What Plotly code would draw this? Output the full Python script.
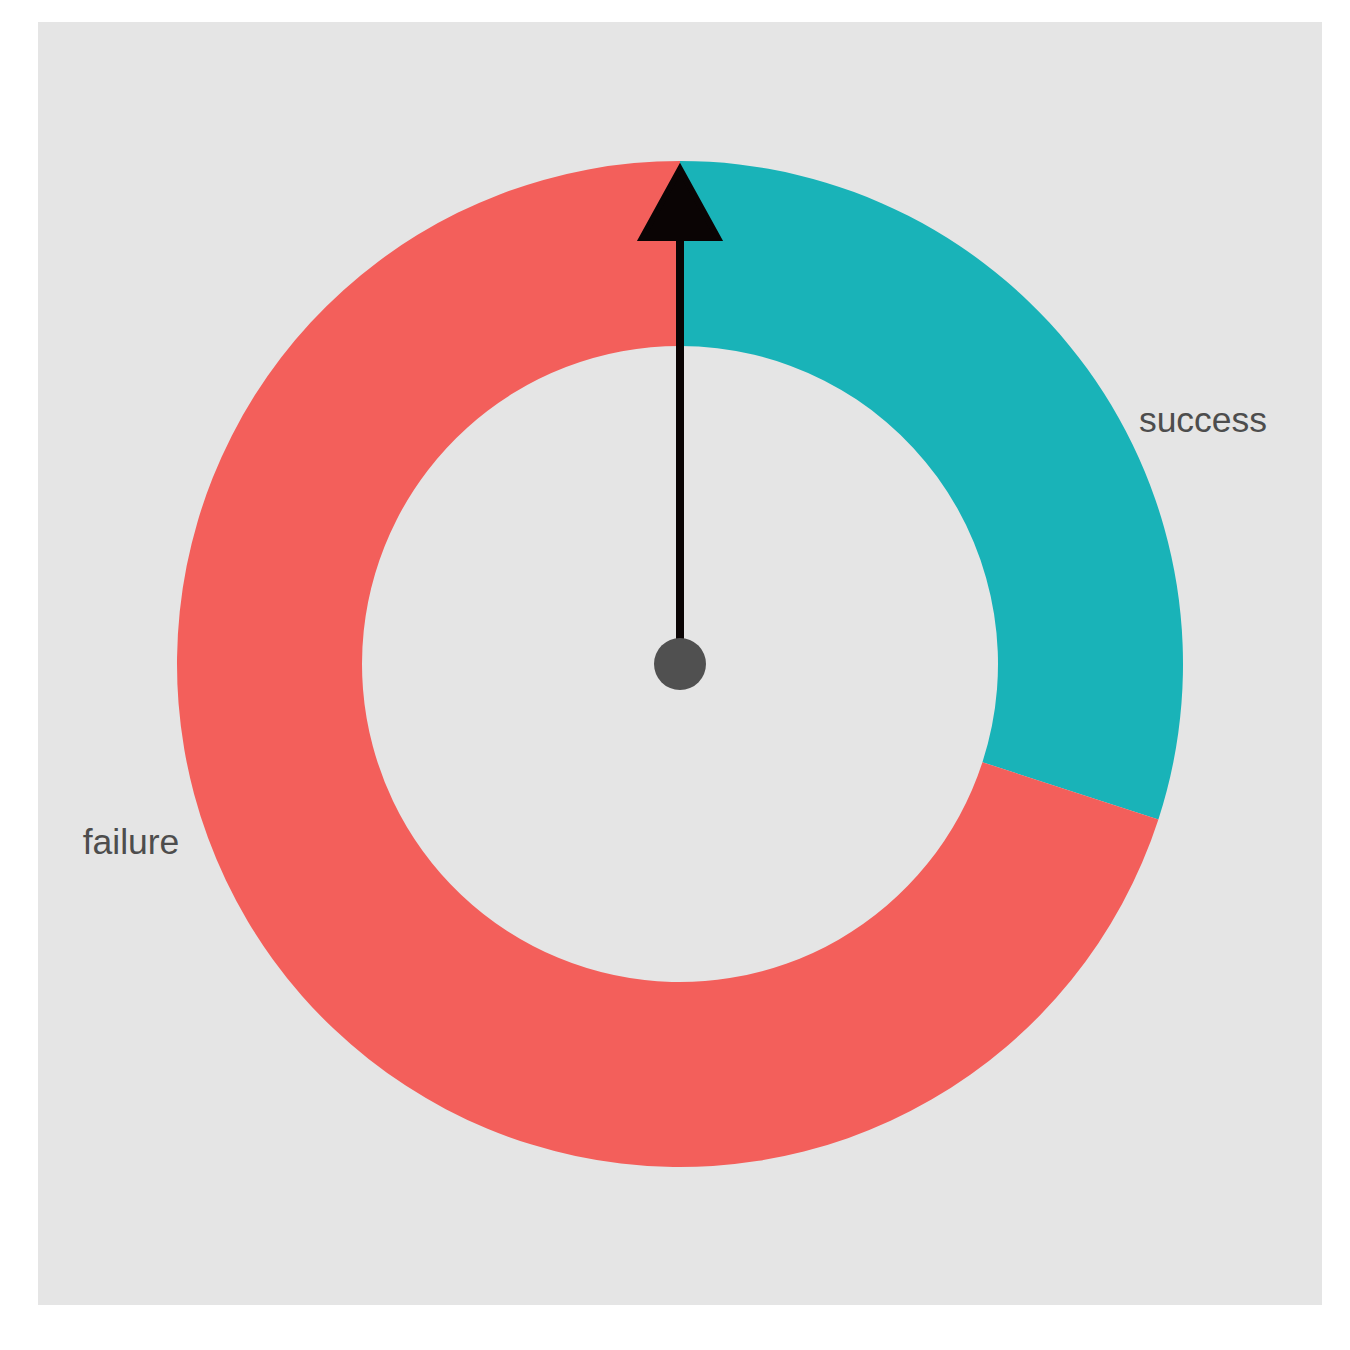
import math
import plotly.graph_objects as go

# data
categories = ["success", "failure"]
shares = [0.30, 0.70]
needle_value = 0.0  # where the needle points, as a fraction of a full turn from the top

# styles
slice_colors = ["#19B3B8", "#F35F5B"]
panel_color = "#E5E5E5"
needle_color = "#0A0404"
hub_color = "#505050"
label_color = "#4D4D4D"

W = H = 1350
left, right, top, bottom = 30, 36, 14, 53
pw = W - left - right
ph = H - top - bottom
cx, cy = 642, 641          # dial centre, px from left / bottom of the panel
r_out, r_in = 503, 318     # donut radii in px
label_pos = {"success": (523, 241), "failure": (-549, -181)}

fig = go.Figure()

fig.add_trace(go.Pie(
    labels=categories, values=shares, sort=False, direction="clockwise",
    rotation=0, hole=r_in / r_out, textinfo="none", hoverinfo="skip",
    showlegend=False,
    marker=dict(colors=slice_colors, line=dict(width=0)),
    domain=dict(x=[(cx - r_out) / pw, (cx + r_out) / pw],
                y=[(cy - r_out) / ph, (cy + r_out) / ph]),
))

# labels on the cartesian layer (axes in px units, origin at the dial centre)
fig.add_trace(go.Scatter(
    x=[label_pos[c][0] for c in categories],
    y=[label_pos[c][1] for c in categories],
    mode="text", text=categories, hoverinfo="skip", showlegend=False,
    textfont=dict(family="Liberation Sans", size=35.5, color=label_color),
))

# needle
th = needle_value * 2 * math.pi
ux, uy = math.sin(th), math.cos(th)
px_, py_ = uy, -ux
head_base, head_tip, head_half = 426, 495, 38
fig.add_shape(type="line", xref="x", yref="y", layer="above",
              x0=0, y0=0, x1=ux * (head_base + 2), y1=uy * (head_base + 2),
              line=dict(color=needle_color, width=8))
bx, by = ux * head_base, uy * head_base
pts = [(bx + px_ * head_half, by + py_ * head_half),
       (ux * head_tip, uy * head_tip),
       (bx - px_ * head_half, by - py_ * head_half)]
path = "M {} {} L {} {} L {} {} Z".format(*[v for p in pts for v in p])
fig.add_shape(type="path", xref="x", yref="y", layer="above", path=path,
              fillcolor=needle_color, line=dict(color=needle_color, width=6))

# hub
hub_r = 26
fig.add_shape(type="circle", xref="x", yref="y", layer="above",
              x0=-hub_r, y0=-hub_r, x1=hub_r, y1=hub_r,
              fillcolor=hub_color, line=dict(width=0))

fig.update_xaxes(range=[-cx, pw - cx], visible=False, showgrid=False, zeroline=False)
fig.update_yaxes(range=[-cy, ph - cy], visible=False, showgrid=False, zeroline=False)

fig.update_layout(
    width=W, height=H,
    margin=dict(l=left, r=right, t=top, b=bottom),
    paper_bgcolor="white", plot_bgcolor=panel_color,
    showlegend=False,
)

fig.write_html("out.html")
